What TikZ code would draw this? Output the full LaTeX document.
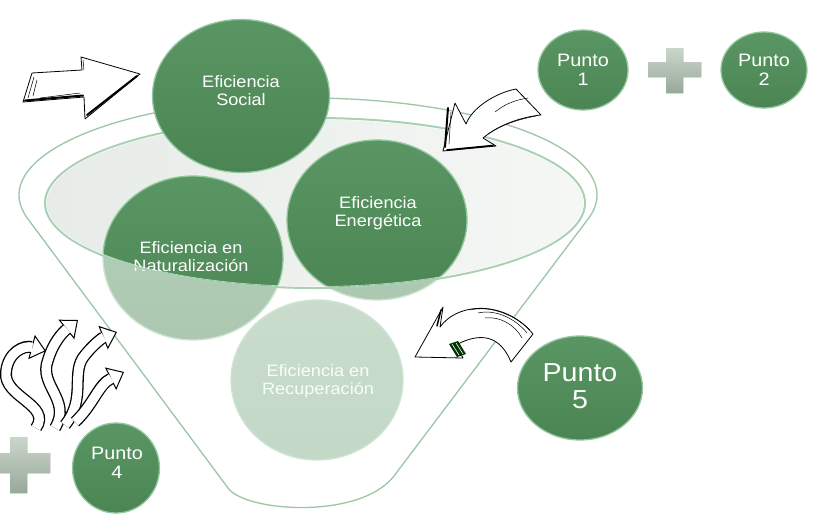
\documentclass[tikz,border=0pt]{standalone}
\usepackage{fontspec}
\setmainfont{Liberation Sans}[FakeStretch=1.1]
\usetikzlibrary{arrows.meta,shapes.geometric}
\definecolor{gtop}{HTML}{5A9663}
\definecolor{gbot}{HTML}{4A8553}
\definecolor{grim}{HTML}{94C79E}
\definecolor{rectop}{HTML}{8AB491}
\definecolor{recbot}{HTML}{7AA982}
\definecolor{rimline}{HTML}{9CC6A5}
\definecolor{lensedge}{HTML}{A9D0B2}
\definecolor{lensL}{HTML}{E7ECE8}
\definecolor{lensR}{HTML}{F5F7F5}
\definecolor{plusT}{HTML}{CBD6CB}
\definecolor{plusB}{HTML}{97A999}
\newcommand\skribbon[1]{%
  \draw[black,line width=12pt,-{Triangle[length=15pt,width=25pt,fill=white,line width'=1pt]}] #1;
  \draw[white,line width=9.4pt,shorten >=14pt] #1;}
\begin{document}
\begin{tikzpicture}[x=1pt,y=-1pt,
  bub/.style={ellipse, inner sep=0pt, top color=gtop, bottom color=gbot, draw=grim, line width=1.3pt},
  txt/.style={text=white, align=center, inner sep=0pt, font=\fontsize{16.5}{18}\selectfont},
  ptxt/.style={text=white, align=center, inner sep=0pt, font=\fontsize{18}{19}\selectfont},
  sketch/.style={fill=white, draw=black, line width=0.8pt, line join=round},
  skheavy/.style={draw=black, line width=2pt, line cap=round},
  skhair/.style={draw=black, line width=0.5pt, line cap=round},
  plusfill/.style={top color=plusT, bottom color=plusB},
]
\useasboundingbox (0,0) rectangle (816,520);
\fill[white] (0,0) rectangle (816,520);

% lens (inner ellipse) of the funnel
\path[left color=lensL, right color=lensR] (315,203) ellipse[x radius=270, y radius=85];

% circles inside the funnel
\node[ellipse, inner sep=0pt, top color=rectop, bottom color=recbot, draw=grim, line width=1.3pt,
      minimum width=172pt, minimum height=160pt] (rec) at (317,380) {};
\node[txt, text=white!92!green] (rect) at (318,381) {Eficiencia en\\Recuperación};
\node[bub, minimum width=180pt, minimum height=164pt] (nat) at (193,258) {};
\node[txt] (natt) at (191,257) {Eficiencia en\\Naturalización};
\node[bub, minimum width=180pt, minimum height=160pt] (ene) at (377,220) {};
\node[txt] (enet) at (378,213) {Eficiencia\\Energética};

% funnel body (translucent)
\fill[white, opacity=.55, even odd rule]
  (27.6,218.5) arc[start angle=166, end angle=374.4, x radius=289, y radius=97]
  -- (394,476) .. controls (360,520) and (245,512) .. (228,488) -- cycle
  (315,203) ellipse[x radius=270, y radius=85];
\draw[rimline, line width=1.3pt, line join=round]
  (27.6,218.5) arc[start angle=166, end angle=374.4, x radius=289, y radius=97]
  -- (394,476) .. controls (360,520) and (245,512) .. (228,488) -- cycle;
\draw[lensedge, line width=2pt] (315,203) ellipse[x radius=270, y radius=85];
\draw[white, opacity=.7, line width=.6pt] (315,203) ellipse[x radius=268.5, y radius=83.5];

% top circle
\node[bub, minimum width=177pt, minimum height=153pt] (soc) at (241,96) {};
\node[txt] (soct) at (241,91) {Eficiencia\\Social};

% points
\node[bub, minimum width=90pt, minimum height=80pt] (p1) at (583,70) {};
\node[ptxt] (p1t) at (583,69.5) {Punto\\1};
\node[bub, minimum width=86pt, minimum height=76pt] (p2) at (764,70) {};
\node[ptxt] (p2t) at (764,69.5) {Punto\\2};
\node[bub, minimum width=125pt, minimum height=104pt] (p5) at (580,388) {};
\node[ptxt, font=\fontsize{26}{27}\selectfont] (p5t) at (580,386.5) {Punto\\5};
\node[bub, minimum width=87pt, minimum height=90pt] (p4) at (116,468) {};
\node[ptxt] (p4t) at (117,463) {Punto\\4};

% plus signs
\fill[plusfill] (666,48) rectangle (683,93) (648,62) rectangle (701,77);
\fill[plusfill] (10,437) rectangle (27,493) (0,453) rectangle (50,473);

% sketched arrow 1 (right)
\path[sketch] (32,73) -- (82,70) -- (81,57) -- (140,74) -- (85,119) -- (84,97) -- (23,102) -- cycle;
\draw[skheavy] (25,100.5) -- (83,95.5);
\draw[skheavy] (87,115) -- (137,76);
\draw[skhair] (34,77) -- (28,98) (37,80) -- (33,96) (83,60) -- (84,70) (40,98) -- (80,93);

% sketched arrow 2 (from Punto 1)
\path[sketch] (516,89) .. controls (495,93) and (472,108) .. (466,124) -- (455,103) -- (443,151)
  -- (496,146) -- (483,138) .. controls (500,124) and (522,117) .. (541,115) -- cycle;
\draw[skheavy] (448,108) -- (445,147);
\draw[skheavy, line width=1.6pt] (447,150) -- (493,145.5);
\draw[skhair] (495,112) .. controls (505,104) and (515,100) .. (528,98)
  (488,134) .. controls (500,126) and (515,120) .. (536,116)
  (451,112) -- (449,144);

% sketched arrow 3 (from Punto 5)
\path[sketch] (415,357) -- (443,307) -- (440,327) .. controls (458,302) and (505,300) .. (533,334)
  -- (511,362) .. controls (500,335) and (480,332) .. (456,345) -- (463,358) -- cycle;
\draw[skheavy, line width=1.5pt] (441,310) -- (437,326);
\draw[skhair] (470,310) .. controls (490,305) and (515,315) .. (530,330)
  (478,313) .. controls (495,309) and (515,318) .. (527,333)
  (485,318) .. controls (500,316) and (515,325) .. (522,338);
\fill[black!80!green] (449,344) -- (458,341) -- (466,354) -- (457,357) -- cycle;
\draw[white, line width=.6pt] (452,344) -- (459,355) (456,343) -- (463,354);

% sketched wavy arrows
\skribbon{(36,428) .. controls (52,405) and (3,397) .. (6,372) .. controls (8,352) and (24,345) .. (46,351)}
\skribbon{(55,428) .. controls (72,400) and (38,385) .. (48,360) .. controls (53,343) and (62,333) .. (78,320)}
\skribbon{(65,425) .. controls (87,398) and (70,372) .. (85,355) .. controls (93,345) and (102,338) .. (117,332)}
\skribbon{(75,422) .. controls (94,404) and (98,385) .. (124,372)}
\end{tikzpicture}
\end{document}
